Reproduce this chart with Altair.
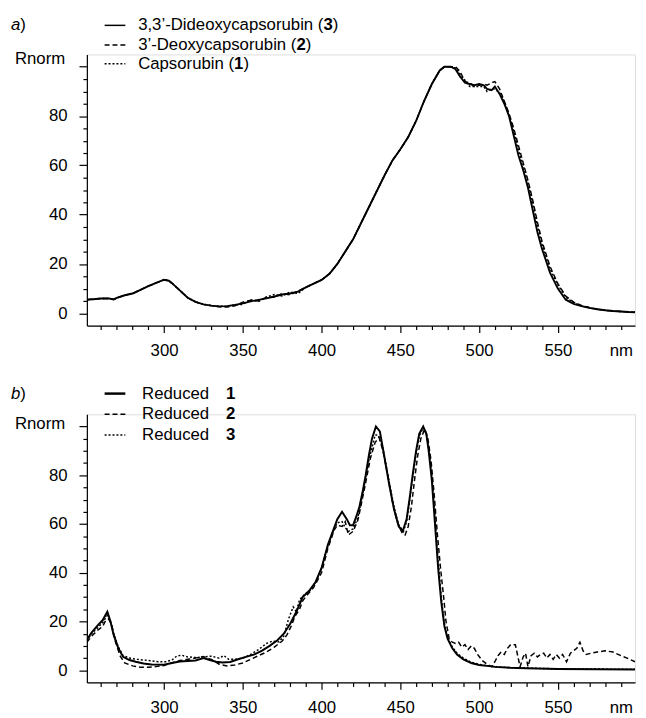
import altair as alt
import pandas as pd

# ---------------- panel a) : three capsorubins ----------------
A_WL = [251, 255, 260, 265, 268, 270, 275, 280, 285, 290, 295, 300, 303, 305, 310,
        315, 320, 325, 330, 335, 340, 345, 350, 355, 360, 365, 370, 375, 380, 385,
        390, 395, 400, 405, 410, 415, 420, 425, 430, 435, 440, 445, 450, 455, 460,
        465, 470, 475, 478, 482, 485, 488, 491, 494, 497, 500, 503, 505, 508, 510,
        513, 516, 519, 522, 525, 528, 531, 534, 537, 540, 545, 550, 555, 560, 565,
        570, 575, 580, 585, 590, 595, 599]
A_DIDEOXY_3 = [5.5, 5.7, 6, 6, 5.6, 6.2, 7.3, 8, 9.5, 11, 12.3, 13.6, 13.2, 12.2, 9.3,
               6.3, 4.6, 3.6, 3.1, 2.8, 2.9, 3.4, 4, 4.8, 5.4, 6, 6.8, 7.6, 8, 8.8,
               10.5, 12, 13.5, 16, 20, 25, 30, 36.5, 43, 49.5, 56, 62, 66.5, 71.5, 78,
               86, 93, 98.5, 100, 100, 99, 96, 93.5, 93, 92.5, 93, 92.5, 91, 90.5, 92,
               89, 85, 80, 72, 64, 58, 51, 42, 33, 26, 16.5, 10, 5.5, 3.8, 2.9,
               2.2, 1.6, 1.2, 0.9, 0.7, 0.5, 0.4]
A_DEOXY_2 = [5.5, 5.7, 6, 6, 5.6, 6.2, 7.3, 8, 9.5, 11, 12.3, 13.6, 13.2, 12.2, 9.3,
             6.3, 4.6, 3.6, 3.1, 2.6, 2.5, 3, 4.5, 5.3, 5, 6.5, 6.5, 8, 7.5, 9,
             10.5, 12, 13.5, 16, 20, 25, 30, 36.5, 43, 49.5, 56, 62, 66.5, 71.5, 78,
             86, 93, 98.5, 100, 100, 100, 98, 94, 93.5, 92, 92.5, 93, 92.5, 93.5, 94,
             91, 86, 81, 75, 68, 61, 54, 46, 37, 29, 19, 12, 7, 4.5, 3.2,
             2.3, 1.7, 1.2, 0.9, 0.7, 0.5, 0.4]
A_CAPSORUBIN_1 = [5.5, 5.7, 6, 6, 5.6, 6.2, 7.3, 8, 9.5, 11, 12.3, 13.6, 13.2, 12.2, 9.3,
                  6.3, 4.6, 3.6, 3.1, 2.8, 2.9, 3.4, 3.6, 5.5, 4.8, 6.6, 7.6, 7, 8.6, 8,
                  10.5, 12, 13.5, 16, 20, 25, 30, 36.5, 43, 49.5, 56, 62, 66.5, 71.5, 78,
                  86, 93, 98.5, 100, 100, 99.5, 97, 94.5, 92, 92, 92, 92, 90, 91, 91,
                  89.5, 86, 80.5, 74, 66, 60, 53, 45, 35.5, 28, 18, 11.5, 6.5, 4.3, 3,
                  2.2, 1.6, 1.2, 0.9, 0.7, 0.5, 0.4]

# ---------------- panel b) : reduced compounds ----------------
B1_WL = [251, 254, 258, 261, 264, 266, 268, 271, 274, 278, 282, 287, 292, 300, 305,
         310, 315, 320, 325, 329, 333, 337, 342, 347, 352, 357, 362, 367, 372, 376,
         380, 384, 388, 392, 396, 400, 404, 408, 410, 413, 416, 418, 420, 422, 424,
         426, 428, 430, 432, 434.5, 437, 440, 443, 446, 449, 451.5, 454, 456, 458, 460,
         462, 464.5, 466.5, 468, 470, 472, 474, 476, 478, 480, 483, 486, 490, 495, 500,
         505, 510, 520, 530, 550, 575, 599]
B_REDUCED_1 = [12.5, 15.5, 18.5, 20.5, 24, 20, 14.5, 9, 5.5, 4.2, 3.5, 2.8, 2.4, 2.3, 3,
               3.6, 3.8, 4, 5, 4.2, 3.5, 3.2, 3.4, 4.5, 5.5, 6.4, 8, 10, 12.3, 15,
               19, 24, 30, 32.5, 36, 42, 51.5, 58.5, 62, 65, 62, 59.5, 59.5, 63, 67,
               73, 80, 88, 95, 100, 98, 87, 76, 66, 59, 57, 62, 71, 81, 90,
               97, 100, 97, 90, 78, 60, 42, 28, 18, 13, 9, 6.5, 4.5, 3, 2.2,
               1.8, 1.4, 1, 0.8, 0.5, 0.4, 0.3]

B2_WL = [251, 254, 258, 261, 263, 265, 267, 269, 272, 275, 280, 285, 290, 295, 300,
         305, 310, 315, 320, 325, 330, 335, 340, 345, 350, 355, 360, 365, 370, 375,
         378, 381, 383, 386, 388, 391, 395, 400, 404, 408, 410, 413, 415, 417, 420,
         423, 425, 428, 431, 434, 436.5, 439, 442, 445, 448, 451, 453, 455, 457, 459,
         461, 463, 465.5, 467.5, 469.5, 471.5, 473.5, 475.5, 477.5, 479, 481, 483, 485, 487, 489,
         491, 493, 495, 497, 499, 502, 505, 508, 510, 512, 514, 516, 518, 520, 523,
         524.5, 526, 528, 529.5, 531, 533, 535, 537, 539, 541, 543, 545, 547, 549, 551,
         553, 555.5, 558, 560, 562, 564, 566, 568, 571, 575, 580, 585, 590, 594, 599]
B_REDUCED_2 = [11.5, 14, 16.5, 18, 20.5, 21, 18, 12, 6, 3, 1.8, 1.2, 1.2, 1.5, 2,
               3, 4, 4.5, 5, 5.6, 4.5, 2.5, 1.8, 2.2, 3, 4.5, 6, 7.5, 9.5, 12,
               14.5, 18.5, 22, 25, 28.5, 31, 34, 40, 50, 57.5, 59.5, 59, 61, 55.5, 57,
               61.5, 67.5, 77, 87, 93.5, 95.5, 90, 80, 69, 61, 56.5, 55.5, 59, 67, 78,
               88, 95, 99, 95, 86, 72, 56, 42, 30, 20, 13, 11.5, 11, 11.5, 9.5,
               10.5, 8.5, 10, 9, 6.5, 4, 2.5, 1.5, 3.5, 6, 7.5, 6.5, 9, 10.5, 10.5,
               6, 1.5, 5.5, 7, 1.5, 6, 7, 5.5, 6.5, 7, 5, 6.5, 4.5, 6.5, 5,
               6.5, 3.5, 7, 8, 9, 11.5, 8, 6.5, 7, 7.5, 8, 7.5, 6, 5, 3.5]

B3_WL = [251, 254, 258, 261, 264, 266, 268, 271, 274, 278, 283, 290, 296, 301, 305,
         308, 311, 315, 320, 325, 330, 335, 338, 341, 345, 350, 355, 360, 365, 369,
         373, 376, 379, 382, 384, 386, 389, 393, 397, 400, 404, 408, 410, 413, 415,
         417, 420, 423, 426, 430, 434, 436, 439, 443, 446, 449, 452, 454, 456, 458,
         460, 462, 464.5, 466.5, 468, 470, 472, 474, 476, 478, 480, 483, 486, 490, 495,
         500, 505, 510, 520, 530, 550, 575, 599]
B_REDUCED_3 = [12, 15, 17.5, 19.5, 22.5, 20, 15, 9.5, 6, 5, 4.5, 4, 3.5, 3.5, 4.2,
               5.8, 6.2, 5.5, 5.2, 5.5, 5.8, 5, 6, 4.5, 4.5, 5, 6.5, 8.5, 11, 12,
               11.6, 14, 21, 26, 24, 29, 31, 33, 37, 42, 51, 58, 60.5, 61, 58.5,
               57, 58, 62.5, 72, 86, 96.5, 96.5, 91, 77, 67, 59.5, 57, 61, 70, 80,
               89, 96, 99.5, 97, 91, 80, 63, 45, 30, 19, 13.5, 9.5, 7, 5, 3.3,
               2.4, 1.9, 1.5, 1.1, 0.9, 0.6, 0.5, 0.4]

X_TICKS = list(range(260, 600, 10))
Y_TICKS = list(range(0, 105, 5))

FONT = "Liberation Sans"
FS = 17

# Arial / Liberation Sans advance widths (1/1000 em) for placing bold digits
W = {"0": 556, "1": 556, "2": 556, "3": 556, ",": 278, "\u2019": 222, "-": 333, " ": 278,
     "(": 333, ")": 333, "C": 722, "D": 722, "R": 722, "a": 556, "b": 556, "c": 500,
     "d": 556, "e": 556, "i": 222, "n": 556, "o": 556, "p": 556, "r": 333, "s": 500,
     "u": 556, "x": 500, "y": 500, "m": 833}


def tw(s):
    return sum(W.get(ch, 556) for ch in s) * FS / 1000.0


def x_axis():
    return alt.Axis(
        values=X_TICKS, title=None, grid=False,
        labelExpr="datum.value === 590 ? 'nm' : (datum.value % 50 === 0 ? datum.label : '')",
        tickSize={"condition": {"test": "datum.value % 50 === 0", "value": 7}, "value": 4},
        labelPadding={"condition": {"test": "datum.value % 50 === 0", "value": 10}, "value": 13},
        labelFont=FONT, labelFontSize=FS, labelColor="black",
        domainColor="black", tickColor="black", domainWidth=1.2, tickWidth=1.2,
        labelFlush=False, labelOverlap=False)


def y_axis():
    return alt.Axis(
        values=Y_TICKS, title=None, grid=False,
        labelExpr="(datum.value % 20 === 0 && datum.value < 100) ? datum.label : ''",
        tickSize={"condition": {"test": "datum.value % 20 === 0", "value": 8}, "value": 4},
        labelPadding=12, labelFont=FONT, labelFontSize=FS, labelColor="black",
        domainColor="black", tickColor="black", domainWidth=1.2, tickWidth=1.2,
        labelOverlap=False)


def one():
    return pd.DataFrame({"k": [0]})


def panel(series, letter, rows, row_y, rnorm_y, text_x, digit_x, width, height):
    xs = alt.Scale(domain=[251, 599], nice=False, zero=False)
    ys = alt.Scale(domain=[-5, 105], nice=False, zero=False)
    layers = []
    for wl, vals, dash, sw in series:
        df = pd.DataFrame({"nm": wl, "R": vals})
        kw = {"color": "black", "strokeWidth": sw, "clip": True}
        if dash:
            kw["strokeDash"] = dash
        layers.append(
            alt.Chart(df).mark_line(**kw).encode(
                x=alt.X("nm:Q", scale=xs, axis=x_axis()),
                y=alt.Y("R:Q", scale=ys, axis=y_axis()),
            )
        )
    # panel letter "a)" / "b)"
    layers.append(alt.Chart(one()).mark_text(
        font=FONT, fontSize=FS, fontStyle="italic", align="left", baseline="middle",
        color="black").encode(x=alt.value(-77), y=alt.value(row_y[0]), text=alt.value(letter)))
    layers.append(alt.Chart(one()).mark_text(
        font=FONT, fontSize=FS, align="left", baseline="middle",
        color="black").encode(x=alt.value(-77 + tw("a")), y=alt.value(row_y[0]), text=alt.value(")")))
    # y title
    layers.append(alt.Chart(one()).mark_text(
        font=FONT, fontSize=FS, align="right", baseline="middle",
        color="black").encode(x=alt.value(-22), y=alt.value(rnorm_y), text=alt.value("Rnorm")))
    # legend
    for (pre, bold, post, dash, sw), yy in zip(rows, row_y):
        kw = {"color": "black", "strokeWidth": sw}
        if dash:
            kw["strokeDash"] = dash
        layers.append(alt.Chart(one()).mark_rule(**kw).encode(
            x=alt.value(18), x2=alt.value(39), y=alt.value(yy)))
        layers.append(alt.Chart(one()).mark_text(
            font=FONT, fontSize=FS, align="left", baseline="middle", color="black").encode(
            x=alt.value(text_x), y=alt.value(yy), text=alt.value(pre)))
        bx = digit_x if digit_x is not None else text_x + tw(pre)
        layers.append(alt.Chart(one()).mark_text(
            font=FONT, fontSize=FS, fontWeight="bold", align="left", baseline="middle",
            color="black").encode(x=alt.value(bx), y=alt.value(yy), text=alt.value(bold)))
        if post:
            layers.append(alt.Chart(one()).mark_text(
                font=FONT, fontSize=FS, align="left", baseline="middle", color="black").encode(
                x=alt.value(bx + tw(bold)), y=alt.value(yy), text=alt.value(post)))
    return alt.layer(*layers).properties(width=width, height=height)


top = panel(
    series=[
        (A_WL, A_CAPSORUBIN_1, [2, 2], 1.5),
        (A_WL, A_DEOXY_2, [5, 3], 1.5),
        (A_WL, A_DIDEOXY_3, None, 1.9),
    ],
    letter="a",
    rows=[
        ("3,3\u2019-Dideoxycapsorubin (", "3", ")", None, 1.5),
        ("3\u2019-Deoxycapsorubin (", "2", ")", [5, 3], 1.5),
        ("Capsorubin (", "1", ")", [2, 2], 1.5),
    ],
    row_y=[-29.5, -9.5, 9.5], rnorm_y=4.5, text_x=52, digit_x=None,
    width=556, height=275,
)

bottom = panel(
    series=[
        (B3_WL, B_REDUCED_3, [2, 2], 1.5),
        (B2_WL, B_REDUCED_2, [5, 3], 1.5),
        (B1_WL, B_REDUCED_1, None, 2.0),
    ],
    letter="b",
    rows=[
        ("Reduced", "1", "", None, 2.5),
        ("Reduced", "2", "", [5, 3], 1.5),
        ("Reduced", "3", "", [2, 2], 1.5),
    ],
    row_y=[-21, 0, 21], rnorm_y=10, text_x=56, digit_x=141,
    width=556, height=272,
)

chart = alt.vconcat(top, bottom, spacing=25).properties(
    padding={"left": 2, "top": 3, "right": 2, "bottom": 2}
).configure_view(stroke="transparent").configure(background="white")

chart.save("out.html", embed_options={"renderer": "svg", "actions": False})
